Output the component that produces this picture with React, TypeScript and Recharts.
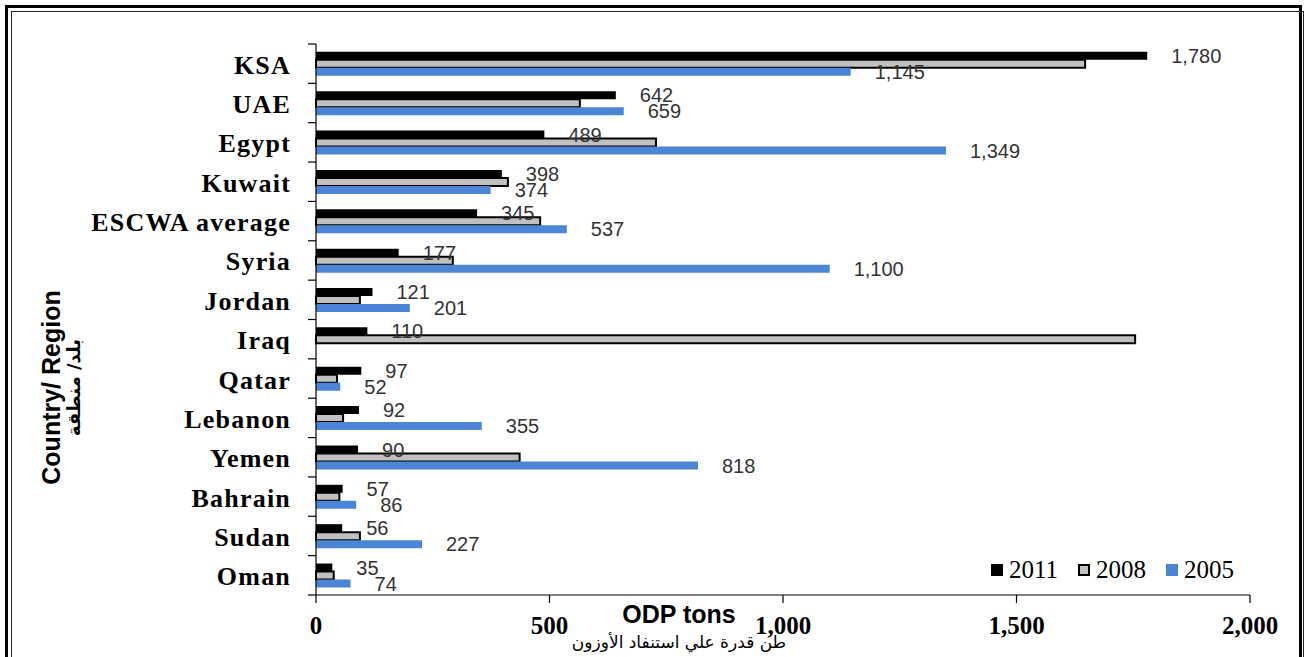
import React from 'react';
import { BarChart, Bar, XAxis, YAxis, Legend, LabelList, Label } from 'recharts';

const categories = ['KSA', 'UAE', 'Egypt', 'Kuwait', 'ESCWA average', 'Syria', 'Jordan', 'Iraq', 'Qatar', 'Lebanon', 'Yemen', 'Bahrain', 'Sudan', 'Oman'];
const values2011 = [1780, 642, 489, 398, 345, 177, 121, 110, 97, 92, 90, 57, 56, 35];
const values2008 = [1647, 565, 728, 411, 480, 293, 94, 1754, 45, 58, 436, 50, 94, 38];
const values2005: (number | null)[] = [1145, 659, 1349, 374, 537, 1100, 201, null, 52, 355, 818, 86, 227, 74];
const xTicks = [0, 500, 1000, 1500, 2000];

const SERIES = [
  { key: 'y2011', name: '2011', fill: '#000000', stroke: 'none', labels: true },
  { key: 'y2008', name: '2008', fill: '#c0c0c0', stroke: '#000000', labels: false },
  { key: 'y2005', name: '2005', fill: '#4d85d6', stroke: 'none', labels: true },
];

const data = categories.map((name, i) => ({
  name,
  y2011: values2011[i],
  y2008: values2008[i],
  y2005: values2005[i],
}));

const W = 1306;
const H = 657;
const MARGIN = { top: 44, right: 56, bottom: 22, left: 16 };
const Y_AXIS_W = 300;
const X_AXIS_H = 40;
const PLOT_H = H - MARGIN.top - MARGIN.bottom - X_AXIS_H;
const BAND = PLOT_H / categories.length;

const SERIF = '"Liberation Serif", "Times New Roman", serif';
const SANS = '"Liberation Sans", Arial, sans-serif';
const ARABIC = '"DejaVu Sans", "Liberation Sans", sans-serif';

const fmt = (v: any) => (v == null ? '' : Number(v).toLocaleString('en-US'));

const YTick = (props: any) => {
  const { x, y, payload, index } = props;
  const ax = x + 8;
  return (
    <g>
      <line x1={x} x2={ax} y1={y - BAND / 2} y2={y - BAND / 2} stroke="#000" strokeWidth={1.2} />
      {index === categories.length - 1 && (
        <line x1={x} x2={ax} y1={y + BAND / 2} y2={y + BAND / 2} stroke="#000" strokeWidth={1.2} />
      )}
      <text x={x - 17} y={y} dy={10} textAnchor="end" fontFamily={SERIF} fontWeight="bold" fontSize={26} letterSpacing={1.2} fill="#000">
        {payload.value}
      </text>
    </g>
  );
};

const XTick = (props: any) => {
  const { x, y, payload } = props;
  return (
    <text x={x} y={y} dy={31} textAnchor="middle" fontFamily={SERIF} fontWeight="bold" fontSize={25} fill="#000">
      {fmt(payload.value)}
    </text>
  );
};

const renderLegend = () => {
  return (
    <div style={{ display: 'flex', alignItems: 'center', fontFamily: SERIF, fontSize: 25, lineHeight: '28px', color: '#000', whiteSpace: 'nowrap' }}>
      {SERIES.map((s) => (
        <div key={s.key} style={{ display: 'flex', alignItems: 'center', marginRight: 20 }}>
          <span
            style={{
              display: 'inline-block',
              width: 12,
              height: 12,
              boxSizing: 'border-box',
              background: s.fill,
              border: s.stroke !== 'none' ? `2px solid ${s.stroke}` : 'none',
              marginRight: 6,
            }}
          />
          <span>{s.name}</span>
        </div>
      ))}
    </div>
  );
};

const XTitle = (props: any) => {
  const vb = props.viewBox || { x: 316, y: 595 };
  const cx = vb.x + 363;
  return (
    <g>
      <text x={cx} y={vb.y + 28} textAnchor="middle" fontFamily={SANS} fontWeight="bold" fontSize={25} fill="#000">
        ODP tons
      </text>
      <text x={cx} y={vb.y + 53} textAnchor="middle" fontFamily={ARABIC} fontSize={17} fill="#000" direction="rtl">
        طن قدرة علي استنفاد الأوزون
      </text>
    </g>
  );
};

const YTitle = (props: any) => {
  const vb = props.viewBox || { x: 16, y: 43, height: 552 };
  const cy = vb.y + vb.height / 2 + 68;
  return (
    <g>
      <text transform={`translate(60, ${cy}) rotate(-90)`} textAnchor="middle" fontFamily={SANS} fontWeight="bold" fontSize={25} fill="#000">
        Country/ Region
      </text>
      <text transform={`translate(80, ${cy}) rotate(-90)`} textAnchor="middle" fontFamily={ARABIC} fontWeight="bold" fontSize={18} fill="#000" direction="rtl">
        بلد/ منطقة
      </text>
    </g>
  );
};

export default function App() {
  return (
    <div style={{ position: 'absolute', left: 0, top: 0, width: W, height: H, overflow: 'hidden', background: '#fff' }}>
      <div style={{ position: 'absolute', left: 5, top: 5, width: 1297, height: 720, border: '3px solid #000', boxSizing: 'border-box' }} />
      <div style={{ position: 'absolute', left: 11, top: 11, width: 1293, height: 720, border: '1px solid #222', boxSizing: 'border-box' }} />
      <div style={{ position: 'absolute', left: 0, top: 0 }}>
        <BarChart
          layout="vertical"
          width={W}
          height={H}
          data={data}
          margin={MARGIN}
          barCategoryGap="20%"
          barGap={0}
        >
          <XAxis
            type="number"
            domain={[0, 2000]}
            ticks={xTicks}
            interval={0}
            height={X_AXIS_H}
            tickSize={8}
            tickMargin={0}
            axisLine={{ stroke: '#000', strokeWidth: 1.2 }}
            tickLine={{ stroke: '#000', strokeWidth: 1.2 }}
            tick={<XTick />}
          >
            <Label content={<XTitle />} />
          </XAxis>
          <YAxis
            type="category"
            dataKey="name"
            width={Y_AXIS_W}
            interval={0}
            tickSize={8}
            tickMargin={0}
            tickLine={false}
            axisLine={{ stroke: '#000', strokeWidth: 1.2 }}
            tick={<YTick />}
          >
            <Label content={<YTitle />} />
          </YAxis>
          <Legend
            layout="vertical"
            align="center"
            verticalAlign="middle"
            content={renderLegend}
            wrapperStyle={{ position: 'absolute', left: 991, top: 556, width: 'auto', height: 'auto' }}
          />
          {SERIES.map((s) => (
            <Bar
              key={s.key}
              dataKey={s.key}
              name={s.name}
              fill={s.fill}
              stroke={s.stroke}
              strokeWidth={s.stroke !== 'none' ? 2 : 0}
              isAnimationActive={false}
            >
              {s.labels && (
                <LabelList
                  dataKey={s.key}
                  position="right"
                  offset={24}
                  formatter={fmt}
                  fontFamily={SANS}
                  fontSize={20}
                  fill="#333"
                />
              )}
            </Bar>
          ))}
        </BarChart>
      </div>
    </div>
  );
}
